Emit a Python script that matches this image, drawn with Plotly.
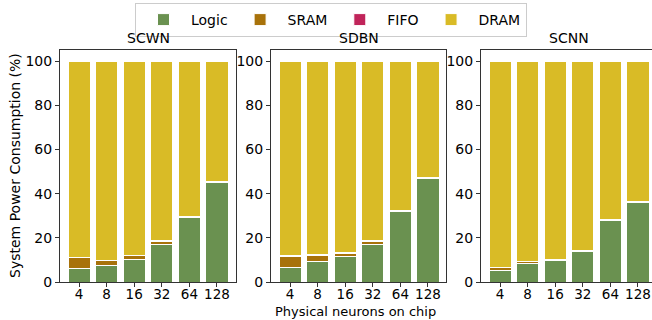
import plotly.graph_objects as go

# Stacked power breakdown per accelerator, for each on-chip neuron count
neurons = ["4", "8", "16", "32", "64", "128"]
panels = ["SCWN", "SDBN", "SCNN"]

scwn_logic = [6.2, 7.3, 10.3, 17.2, 29.2, 45.0]
scwn_sram = [5.0, 2.4, 1.6, 1.3, 0.4, 0.3]
scwn_fifo = [0.1, 0.1, 0.1, 0.1, 0.1, 0.1]
scwn_dram = [88.7, 90.2, 88.0, 81.4, 70.3, 54.6]

sdbn_logic = [6.7, 9.2, 11.5, 17.1, 31.8, 47.0]
sdbn_sram = [5.0, 3.0, 1.6, 1.4, 0.4, 0.3]
sdbn_fifo = [0.1, 0.1, 0.1, 0.1, 0.1, 0.1]
sdbn_dram = [88.2, 87.7, 86.8, 81.4, 67.7, 52.6]

scnn_logic = [5.2, 8.4, 9.9, 13.8, 28.0, 36.2]
scnn_sram = [1.3, 0.7, 0.4, 0.3, 0.2, 0.2]
scnn_fifo = [0.1, 0.1, 0.1, 0.1, 0.1, 0.1]
scnn_dram = [93.4, 90.8, 89.6, 85.8, 71.7, 63.5]

components = ["Logic", "SRAM", "FIFO", "DRAM"]
colors = {"Logic": "#6a9150", "SRAM": "#a8720a", "FIFO": "#c0245a", "DRAM": "#d9bb26"}

data = {
    "SCWN": [scwn_logic, scwn_sram, scwn_fifo, scwn_dram],
    "SDBN": [sdbn_logic, sdbn_sram, sdbn_fifo, sdbn_dram],
    "SCNN": [scnn_logic, scnn_sram, scnn_fifo, scnn_dram],
}

W, H = 652, 320
px_per_unit = 176 / 6.38
panel_px = [(60, 236), (271, 446), (481, 652)]
y_bot, y_top = 282, 50
FONT = "DejaVu Sans"
FS = 14

fig = go.Figure()
xpos = list(range(len(neurons)))

for i, name in enumerate(panels):
    sfx = "" if i == 0 else str(i + 1)
    for comp, vals in zip(components, data[name]):
        fig.add_trace(go.Bar(
            x=xpos, y=vals, width=0.8, name=comp,
            marker=dict(color=colors[comp], line=dict(color="white", width=1)),
            xaxis="x" + sfx, yaxis="y" + sfx,
            legendgroup=comp, showlegend=(i == 0),
        ))
    l, r = panel_px[i]
    xr = [-0.69, -0.69 + (r - l) / px_per_unit]
    fig.layout["xaxis" + sfx] = dict(
        domain=[l / W, r / W], range=xr, anchor="y" + sfx, automargin=False,
        tickmode="array", tickvals=xpos, ticktext=neurons,
        showline=True, linecolor="#333", linewidth=1, mirror=True,
        ticks="outside", ticklen=4, tickcolor="#333", ticklabelstandoff=-4,
        showgrid=False, zeroline=False,
        tickfont=dict(family=FONT, size=13.5, color="black"),
    )
    fig.layout["yaxis" + sfx] = dict(
        domain=[(H - y_bot) / H, (H - y_top) / H], range=[0, 105],
        anchor="x" + sfx, automargin=False,
        tickvals=[0, 20, 40, 60, 80, 100],
        showline=True, linecolor="#333", linewidth=1, mirror=(i < 2),
        ticks="outside", ticklen=4, tickcolor="#333",
        showgrid=False, zeroline=False,
        tickfont=dict(family=FONT, size=FS, color="black"),
    )
    fig.add_annotation(
        text=name, x=(l + 88) / W, y=(H - 48) / H,
        xref="paper", yref="paper", xanchor="center", yanchor="bottom",
        showarrow=False, font=dict(family=FONT, size=FS, color="black"),
    )

fig.add_annotation(
    text="Physical neurons on chip", x=355 / W, y=(H - 311) / H,
    xref="paper", yref="paper", xanchor="center", yanchor="middle",
    showarrow=False, font=dict(family=FONT, size=13, color="black"),
)
fig.add_annotation(
    text="System Power Consumption (%)", x=15 / W, y=(H - 166) / H,
    xref="paper", yref="paper", xanchor="center", yanchor="middle",
    textangle=-90, showarrow=False,
    font=dict(family=FONT, size=FS, color="black"),
)

fig.update_layout(
    width=W, height=H, barmode="stack",
    margin=dict(l=0, r=0, t=0, b=0, autoexpand=False),
    plot_bgcolor="white", paper_bgcolor="white",
    legend=dict(
        orientation="h", x=331 / W, y=(H - 3) / H,
        xanchor="center", yanchor="top",
        bordercolor="#cccccc", borderwidth=1,
        font=dict(family=FONT, size=FS, color="black"),
        itemwidth=45, traceorder="normal",
    ),
)

fig.write_html("out.html")
